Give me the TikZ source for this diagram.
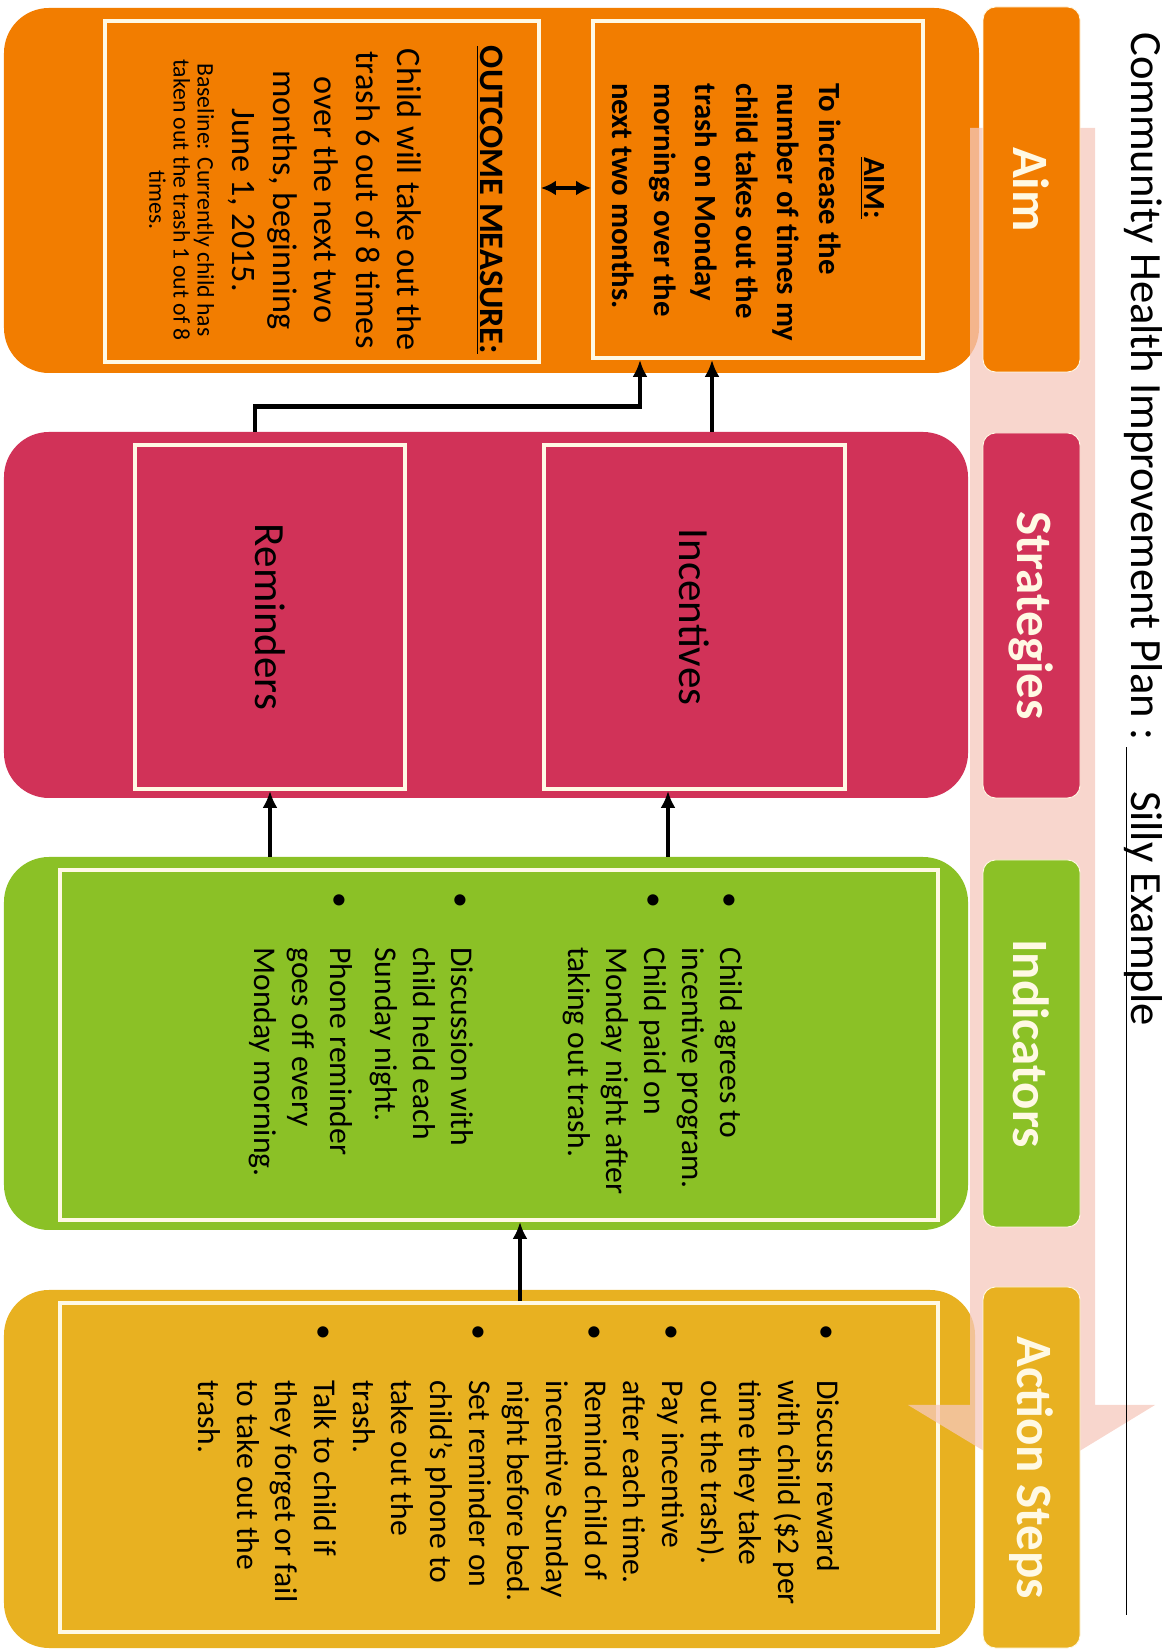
\documentclass[tikz,border=0pt]{standalone}
\usepackage{fontspec}
\setmainfont{Carlito}
\usetikzlibrary{arrows.meta}
\definecolor{aimorange}{RGB}{242,125,0}
\definecolor{stratred}{RGB}{209,50,88}
\definecolor{indgreen}{RGB}{139,193,38}
\definecolor{actgold}{RGB}{232,177,33}
\definecolor{flowpink}{RGB}{246,200,188}
\definecolor{cream}{RGB}{255,249,228}

\begin{document}
\begin{tikzpicture}[
    x=0.2mm, y=0.2mm,
    panel/.style={rounded corners=9mm, inner sep=0pt},
    frame/.style={draw=cream, line width=2.2pt, inner sep=0pt},
    tab/.style={draw=cream, line width=0.5pt, rounded corners=2.5mm, rotate=-90, minimum height=19.4mm, inner sep=0pt, text=cream, font=\fontsize{29}{34}\selectfont\bfseries},
    body/.style={rotate=-90, inner sep=0pt},
    conn/.style={-{Latex[length=3.4mm,width=3mm]}, line width=2.6pt},
    biconn/.style={{Latex[length=3mm,width=3mm]}-{Latex[length=3mm,width=3mm]}, line width=2.6pt},
    flow/.style={fill=flowpink, fill opacity=0.75}
]
\useasboundingbox (0,0) rectangle (1173,1650);

% outer panels
\node[panel, fill=aimorange, minimum width=195mm, minimum height=73mm] (aim) at (491.5,1459.5) {};
\node[panel, fill=stratred, minimum width=192.8mm, minimum height=73.2mm] (strat) at (486,1035) {};
\node[panel, fill=indgreen, minimum width=192.8mm, minimum height=74.6mm] (ind) at (486,606.5) {};
\node[panel, fill=actgold, minimum width=194.2mm, minimum height=71.6mm] (act) at (489.5,181) {};

% aim
\node[frame, minimum width=66mm, minimum height=67.4mm] (aimbox) at (758,1460.5) {};
\node[frame, minimum width=86.8mm, minimum height=68.2mm] (outbox) at (322,1458.5) {};
\node[body, anchor=base west, font=\fontsize{17.5}{23.5}\selectfont\bfseries] (aimtext) at (864,1567) {%
  \begin{tabular}[t]{@{}l@{}}
  \hspace{42pt}\underline{AIM:}\\[2pt]
  To increase the\\
  number of times my\\
  child takes out the\\
  trash on Monday\\
  mornings over the\\
  next two months.
  \end{tabular}};
\node[body, anchor=base, font=\fontsize{19.5}{23.5}\selectfont] (outtext) at (480,1450) {%
  \begin{tabular}[t]{@{}c@{}}
  \textbf{\underline{OUTCOME MEASURE:}}\\
  \\
  Child will take out the\\
  trash 6 out of 8 times\\
  over the next two\\
  months, beginning\\
  June 1, 2015.\\[-3.8pt]
  {\fontsize{13.5}{14}\selectfont Baseline: Currently child has}\\[-9.8pt]
  {\fontsize{13.5}{14}\selectfont taken out the trash 1 out of 8}\\[-9.8pt]
  {\fontsize{13.5}{14}\selectfont times.}
  \end{tabular}};

% strategies
\node[frame, body, minimum width=68.8mm, minimum height=54mm, font=\fontsize{24.5}{29}\selectfont] (remind) at (270,1033) {Reminders};
\node[frame, body, minimum width=68.8mm, minimum height=60.2mm, font=\fontsize{24.5}{29}\selectfont] (incent) at (694.5,1033) {Incentives};

% indicators
\node[frame, minimum width=175.6mm, minimum height=70mm] (indbox) at (499,605) {};
\node[body, anchor=base west, font=\fontsize{18}{21.6}\selectfont] (indtext) at (720,758) {%
  \begin{tabular}[t]{@{}p{11mm}@{}l@{}}
  \textbullet & Child agrees to\\
  & incentive program.\\
  \textbullet & Child paid on\\
  & Monday night after\\
  & taking out trash.\\[45pt]
  \textbullet & Discussion with\\
  & child held each\\
  & Sunday night.\\[4pt]
  \textbullet & Phone reminder\\
  & goes off every\\
  & Monday morning.
  \end{tabular}};

% action steps
\node[frame, minimum width=175.6mm, minimum height=65.8mm] (actbox) at (499,182.5) {};
\node[body, anchor=base west, font=\fontsize{18}{22}\selectfont] (acttext) at (817,326) {%
  \begin{tabular}[t]{@{}p{11.2mm}@{}l@{}}
  \textbullet & Discuss reward\\
  & with child (\$2 per\\
  & time they take\\
  & out the trash).\\
  \textbullet & Pay incentive\\
  & after each time.\\
  \textbullet & Remind child of\\
  & incentive Sunday\\
  & night before bed.\\
  \textbullet & Set reminder on\\
  & child’s phone to\\
  & take out the\\
  & trash.\\
  \textbullet & Talk to child if\\
  & they forget or fail\\
  & to take out the\\
  & trash.
  \end{tabular}};

% connectors
\draw[conn] ([xshift=-3mm]remind.center |- strat.north) -- ++(0,25) -| ([xshift=-23.6mm]aimbox.south);
\draw[conn] ([xshift=3.5mm]incent.center |- strat.north) -- ([xshift=3.5mm]incent.center |- aimbox.south);
\draw[conn] (remind.center |- ind.north) -- (remind.east);
\draw[conn] ([xshift=-5.3mm]incent.center |- ind.north) -- ([xshift=-5.3mm]incent.east);
\draw[conn] ([xshift=4.2mm]actbox.north) -- ([xshift=4.2mm]actbox.north |- indbox.south);
\draw[biconn] ([yshift=0.7mm]outbox.east) -- ([yshift=0.7mm]outbox.east -| aimbox.west);

% flow arrow behind the tabs
\fill[flow] (970,1522) -- (1095,1522) -- (1095,245) -- (1155,245) -- (1032,170) -- (908,245) -- (970,245) -- cycle;

% tabs
\node[tab, fill=aimorange, minimum width=73mm] (aimtab) at (1031.5,1460.5) {Aim};
\node[tab, fill=stratred, minimum width=73mm] (strattab) at (1031.5,1034.5) {Strategies};
\node[tab, fill=indgreen, minimum width=73.4mm] (indtab) at (1031.5,606.5) {Indicators};
\node[tab, fill=actgold, minimum width=72.2mm] (acttab) at (1031.5,182.5) {Action Steps};

% title
\node[body, anchor=base west, font=\fontsize{25.4}{30}\selectfont] (title) at (1131,1618) {Community Health Improvement Plan :\hspace{4pt}\rlap{\rule[-3pt]{494pt}{1pt}}\hspace{25pt}Silly Example};
\end{tikzpicture}
\end{document}
